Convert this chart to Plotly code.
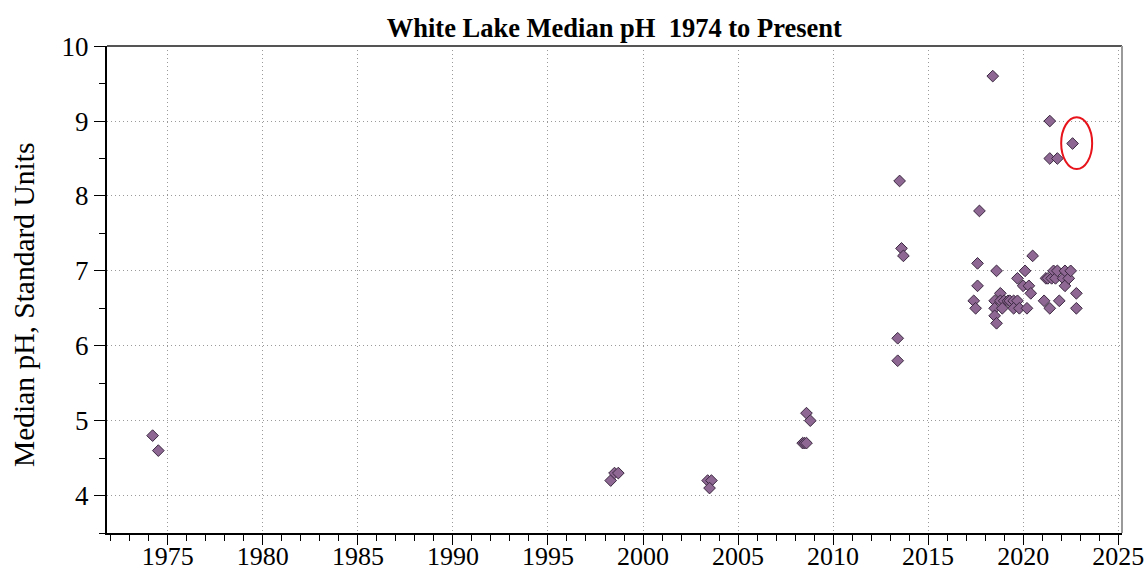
import plotly.graph_objects as go

# Sampling dates (decimal year) and median pH readings, White Lake
years = [
    1974.2, 1974.5,
    1998.3, 1998.5, 1998.7,
    2003.4, 2003.6, 2003.5,
    2008.4, 2008.5, 2008.6, 2008.6, 2008.8,
    2013.5, 2013.6, 2013.7, 2013.4, 2013.4,
    2017.4, 2017.5, 2017.6, 2017.6, 2017.7,
    2018.4, 2018.5, 2018.5, 2018.5, 2018.6, 2018.6, 2018.8, 2018.8,
    2019.0, 2018.9, 2019.2, 2019.3, 2019.5, 2019.7, 2019.5, 2019.8, 2019.7,
    2020.0, 2020.1, 2020.2, 2020.3, 2020.4, 2020.5,
    2021.1, 2021.2, 2021.3, 2021.4, 2021.4, 2021.4, 2021.8, 2021.5, 2021.6,
    2021.7, 2021.8, 2021.9,
    2022.1, 2022.2, 2022.2, 2022.4, 2022.5, 2022.6, 2022.8, 2022.8,
]
median_ph = [
    4.8, 4.6,
    4.2, 4.3, 4.3,
    4.2, 4.2, 4.1,
    4.7, 4.7, 4.7, 5.1, 5.0,
    8.2, 7.3, 7.2, 6.1, 5.8,
    6.6, 6.5, 6.8, 7.1, 7.8,
    9.6, 6.6, 6.5, 6.4, 6.3, 7.0, 6.7, 6.6,
    6.6, 6.5, 6.6, 6.6, 6.6, 6.6, 6.5, 6.5, 6.9,
    6.8, 7.0, 6.5, 6.8, 6.7, 7.2,
    6.6, 6.9, 6.9, 6.5, 9.0, 8.5, 8.5, 6.9, 7.0,
    6.9, 7.0, 6.6,
    6.9, 7.0, 6.8, 6.9, 7.0, 8.7, 6.7, 6.5,
]

# Highlighted most recent high reading (ellipse bounds in data units)
highlight_x = [2022.0, 2023.63]
highlight_y = [8.36, 9.05]

x_range = [1971.8, 2025.2]
y_range = [3.5, 10.002]

serif = "Liberation Serif, Times New Roman, serif"
grid_style = dict(showgrid=True, gridcolor="#9a9a9a", griddash="1px,3px", gridwidth=1)

fig = go.Figure()
fig.add_trace(go.Scatter(
    x=years, y=median_ph, mode="markers",
    marker=dict(symbol="diamond", size=9, color="#8e6893",
                line=dict(color="#3a2840", width=1)),
    showlegend=False,
))

fig.add_shape(type="circle", xref="x", yref="y",
              x0=highlight_x[0], x1=highlight_x[1],
              y0=highlight_y[0], y1=highlight_y[1],
              line=dict(color="#e8141c", width=2))

# Frame: dark top edge, lighter right edge
fig.add_shape(type="line", xref="paper", yref="paper", x0=0, x1=1, y0=1, y1=1,
              line=dict(color="#555555", width=2))
fig.add_shape(type="line", xref="paper", yref="paper", x0=1, x1=1, y0=0, y1=1,
              line=dict(color="#9a9a9a", width=2))

# Y-axis caption, sitting slightly below the vertical centre of the plot
fig.add_annotation(text="Median pH, Standard Units", textangle=-90,
                   xref="paper", yref="paper", x=-0.0818, y=0.468,
                   xanchor="center", yanchor="middle", showarrow=False,
                   font=dict(family=serif, size=29.5, color="black"))

fig.update_layout(
    width=1145, height=570,
    margin=dict(l=107, r=23, t=46, b=37, autoexpand=False),
    paper_bgcolor="white", plot_bgcolor="white",
    title=dict(text="<b>White Lake Median pH \u00a01974 to Present</b>",
               x=0.5365, xanchor="center", y=0.952, yanchor="middle",
               font=dict(family=serif, size=26.5, color="black")),
    font=dict(family=serif, color="black"),
)

fig.update_xaxes(
    range=x_range, tick0=1975, dtick=5, automargin=False,
    ticks="outside", ticklen=10, tickwidth=1, tickcolor="black",
    ticklabelstandoff=-11, ticklabeloverflow="allow",
    tickfont=dict(family=serif, size=26),
    showline=True, linecolor="black", linewidth=2,
    zeroline=False, **grid_style,
    minor=dict(dtick=1, tick0=1975, ticks="outside", ticklen=6,
               tickcolor="black", showgrid=False),
)
fig.update_yaxes(
    range=y_range, tick0=4, dtick=1, automargin=False,
    ticks="outside", ticklen=11, tickwidth=1, tickcolor="black",
    tickfont=dict(family=serif, size=27),
    showline=True, linecolor="black", linewidth=2,
    zeroline=False, **grid_style,
    minor=dict(dtick=0.5, tick0=3.5, ticks="outside", ticklen=6,
               tickcolor="black", showgrid=False),
)

fig.write_html("out.html")
